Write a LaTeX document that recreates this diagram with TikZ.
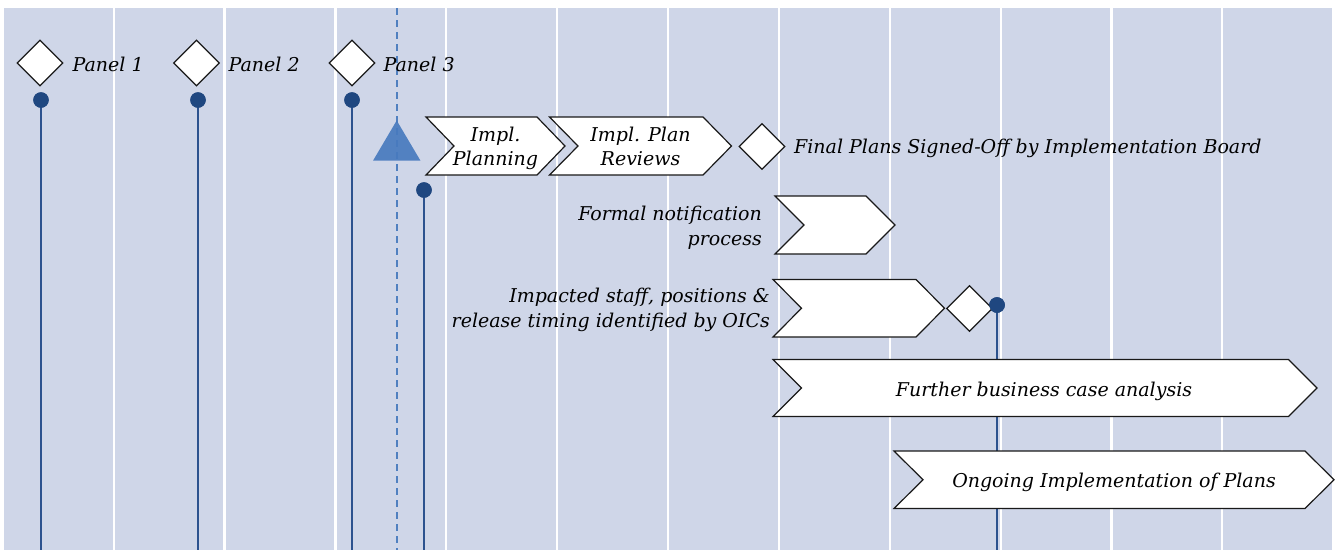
\documentclass[tikz,border=0pt]{standalone}
\usepackage{fontspec}
\setmainfont{DejaVu Serif}
\usetikzlibrary{shapes.geometric}
\definecolor{bgblue}{RGB}{207,214,232}
\definecolor{navy}{RGB}{31,71,128}
\definecolor{stemblue}{RGB}{44,82,142}
\definecolor{triblue}{RGB}{72,122,190}
\definecolor{dashblue}{RGB}{80,128,192}
\definecolor{outline}{RGB}{25,25,25}
\newcommand{\chevshape}[5]{%
  \draw[chevbox] (#1,#3) -- (#2,#3) -- ({#2+#5},{(#3+#4)/2}) -- (#2,#4) -- (#1,#4) -- ({#1+#5},{(#3+#4)/2}) -- cycle;}
\begin{document}
\begin{tikzpicture}[x=1pt,y=-1pt,
  gridline/.style={white,line width=2.5pt},
  stem/.style={stemblue,line width=2pt},
  dot/.style={circle,fill=navy,inner sep=0pt,minimum size=15.5pt},
  dia/.style={diamond,draw=outline,fill=white,line width=1.2pt,inner sep=0pt,minimum width=46pt,minimum height=46pt},
  chevbox/.style={draw=outline,fill=white,line width=1.2pt,line join=miter},
  lbl/.style={font=\fontsize{19}{24.5}\selectfont\itshape,inner sep=0pt,text=black},
  inlbl/.style={lbl,align=center},
]
\useasboundingbox (0,0) rectangle (1339,550);
\fill[bgblue] (4,8) rectangle (1332,550);
\foreach \gx in {114,224.5,335.5,446,557,668,779,890,1001,1111.5,1222}
  \draw[gridline] (\gx,8) -- (\gx,550);
% dashed marker line
\coordinate (dtop) at (396.5,8);
\coordinate (dbot) at (396.5,550);
\draw[dashblue,line width=2pt,dash pattern=on 7pt off 5pt] (dtop) -- (dbot);
% triangle
\fill[triblue,opacity=0.92] (396.7,120.5) -- (420.5,160.7) -- (373,160.7) -- cycle;
% stems and dots
\node[dot] (d1) at (41,100) {};
\node[dot] (d2) at (198,100) {};
\node[dot] (d3) at (352,100) {};
\node[dot] (d4) at (424,190) {};
\node[dot] (d5) at (997,305) {};
\coordinate (e1) at (41,550);
\coordinate (e2) at (198,550);
\coordinate (e3) at (352,550);
\coordinate (e4) at (424,550);
\coordinate (e5) at (997,550);
\foreach \i in {1,...,5} \draw[stem] (d\i.center) -- (e\i);
\foreach \i in {1,...,5} \node[dot] at (d\i) {};
% panel diamonds
\node[dia] (p1) at (40,63) {};
\node[dia] (p2) at (196.5,63) {};
\node[dia] (p3) at (352,63) {};
\node[lbl,anchor=base west] (t1) at (72.5,71) {Panel 1};
\node[lbl,anchor=base west] (t2) at (228.5,71) {Panel 2};
\node[lbl,anchor=base west] (t3) at (383.5,71) {Panel 3};
% chevrons
\chevshape{426}{537}{117}{175}{28}
\node[inlbl,font=\fontsize{19}{23.5}\selectfont\itshape,anchor=base] (c1) at (495.5,165) {Impl.\\Planning};
\chevshape{549.5}{703}{117}{175}{28.5}
\node[inlbl,font=\fontsize{19}{23.5}\selectfont\itshape,anchor=base] (c2) at (640.5,165) {Impl. Plan\\Reviews};
\node[dia] (fd) at (762,146.5) {};
\node[lbl,anchor=base west] (ft) at (794,153) {Final Plans Signed-Off by Implementation Board};
\chevshape{775}{866}{196}{254}{29}
\node[lbl,align=right,anchor=base east] (fn) at (762,245) {Formal notification\\process};
\chevshape{773}{916}{279.5}{337}{28.5}
\node[dia] (id) at (969.5,308.5) {};
\node[dot] at (d5) {};
\node[lbl,align=right,anchor=base east] (it) at (770,327) {Impacted staff, positions \&\\release timing identified by OICs};
\chevshape{773}{1288.5}{359.5}{416.5}{28.5}
\node[lbl,anchor=base] (fb) at (1044,396) {Further business case analysis};
\chevshape{894}{1305}{451}{508.5}{29}
\node[lbl,anchor=base] (og) at (1114,487) {Ongoing Implementation of Plans};
\end{tikzpicture}
\end{document}
